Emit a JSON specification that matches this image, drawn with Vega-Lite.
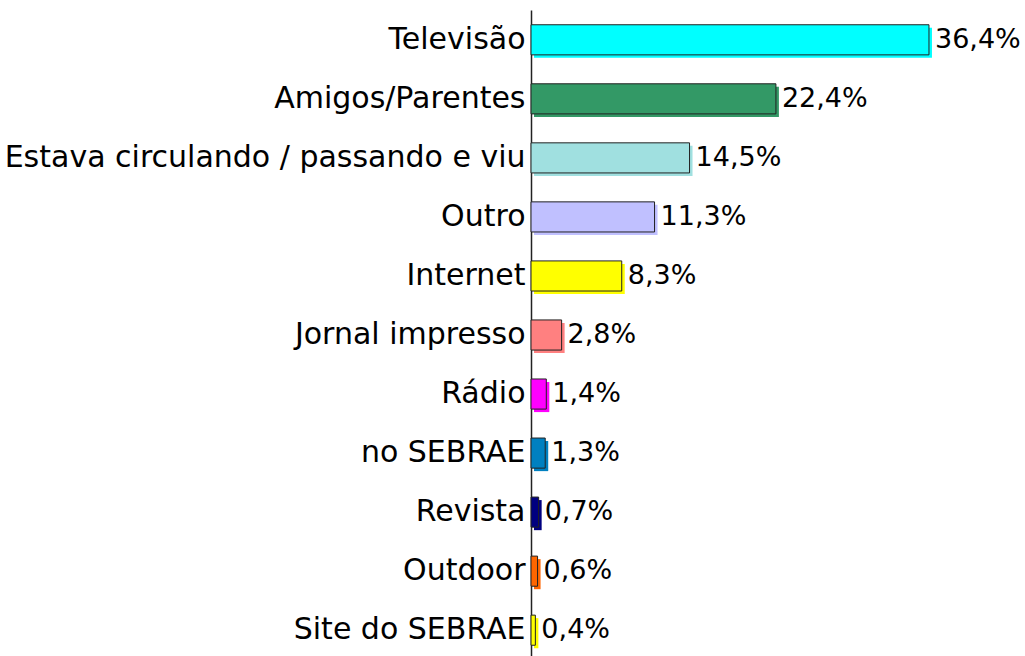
{
  "$schema": "https://vega.github.io/schema/vega-lite/v6.json",
  "autosize": "none",
  "width": 492,
  "height": 650,
  "padding": {"left": 531, "top": 10, "right": 2, "bottom": -4},
  "background": "white",
  "config": {"view": {"stroke": null}, "font": "DejaVu Sans"},
  "data": {"values": [
    {"cat": "Televisão", "v": 36.4, "lab": "36,4%", "color": "#00FFFF"},
    {"cat": "Amigos/Parentes", "v": 22.4, "lab": "22,4%", "color": "#339966"},
    {"cat": "Estava circulando / passando e viu", "v": 14.5, "lab": "14,5%", "color": "#A0E0E0"},
    {"cat": "Outro", "v": 11.3, "lab": "11,3%", "color": "#C0C0FF"},
    {"cat": "Internet", "v": 8.3, "lab": "8,3%", "color": "#FFFF00"},
    {"cat": "Jornal impresso", "v": 2.8, "lab": "2,8%", "color": "#FF8080"},
    {"cat": "Rádio", "v": 1.4, "lab": "1,4%", "color": "#FF00FF"},
    {"cat": "no SEBRAE", "v": 1.3, "lab": "1,3%", "color": "#0080C0"},
    {"cat": "Revista", "v": 0.7, "lab": "0,7%", "color": "#000080"},
    {"cat": "Outdoor", "v": 0.6, "lab": "0,6%", "color": "#FF6600"},
    {"cat": "Site do SEBRAE", "v": 0.4, "lab": "0,4%", "color": "#FFFF00"}
  ]},
  "encoding": {
    "y": {"field": "cat", "type": "nominal", "sort": null,
      "scale": {"paddingInner": 0.49, "paddingOuter": 0.25},
      "axis": {"title": null, "ticks": false, "labelFontSize": 30, "labelColor": "black",
        "labelPadding": 6, "domainColor": "#222222", "domainWidth": 1.5, "labelLimit": 600, "labelFont": "DejaVu Sans"}},
    "x": {"field": "v", "type": "quantitative", "scale": {"domain": [0, 45]}, "axis": null}
  },
  "layer": [
    {"mark": {"type": "bar", "xOffset": 3, "yOffset": 3},
     "encoding": {"color": {"field": "color", "type": "nominal", "scale": null}}},
    {"mark": {"type": "bar", "stroke": "#222222", "strokeWidth": 1},
     "encoding": {"color": {"field": "color", "type": "nominal", "scale": null}}},
    {"mark": {"type": "text", "align": "left", "baseline": "middle", "dx": 6, "fontSize": 27, "color": "black"},
     "encoding": {"text": {"field": "lab"}}}
  ]
}
